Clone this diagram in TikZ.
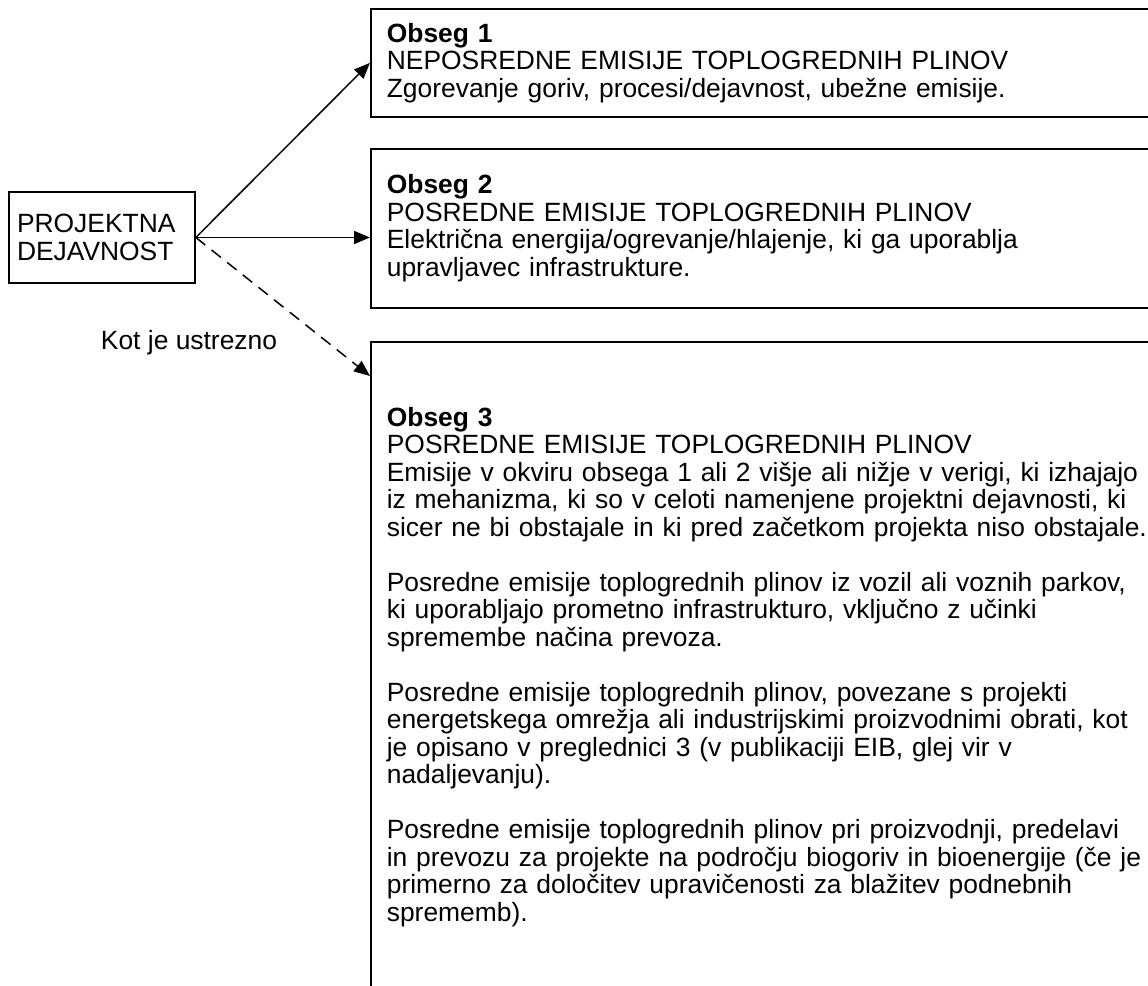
\documentclass[tikz,border=0pt]{standalone}
\usepackage{fontspec}
\setmainfont{Liberation Sans}
\usetikzlibrary{arrows.meta}
\begin{document}
\begin{tikzpicture}[x=1pt,y=-1pt,
  every node/.style={font=\fontsize{26.4}{27.5}\selectfont},
  frame/.style={draw, line width=1.7pt, inner ysep=0pt},
  scopebox/.style={frame, anchor=north west, minimum width=840pt,
                   inner xsep=16pt, text width=808pt, align=left},
  link/.style={line width=1.5pt, -{Triangle[length=16pt,width=13pt]}},
  optional/.style={link, dash pattern=on 12pt off 8pt}]
  \useasboundingbox (0,0) rectangle (1148,985);
  \clip (0,0) rectangle (1148,985);

  % source activity
  \node[frame, minimum width=186pt, minimum height=91pt, inner xsep=8pt,
        text width=170pt, align=left] (p) at (102,237.5) {PROJEKTNA\\DEJAVNOST};

  % the three scopes
  \node[scopebox, minimum height=108pt] (b1) at (370,8)
    {\textbf{Obseg 1}\\
     NEPOSREDNE EMISIJE TOPLOGREDNIH PLINOV\\
     Zgorevanje goriv, procesi/dejavnost, ubežne emisije.};

  \node[scopebox, minimum height=159pt] (b2) at (370,148)
    {\textbf{Obseg 2}\\
     POSREDNE EMISIJE TOPLOGREDNIH PLINOV\\
     Električna energija/ogrevanje/hlajenje, ki ga uporablja\\
     upravljavec infrastrukture.};

  \node[scopebox, minimum height=650pt] (b3) at (370,341)
    {\textbf{Obseg 3}\\
     POSREDNE EMISIJE TOPLOGREDNIH PLINOV\\
     Emisije v okviru obsega 1 ali 2 višje ali nižje v verigi, ki izhajajo\\
     iz mehanizma, ki so v celoti namenjene projektni dejavnosti, ki\\
     sicer ne bi obstajale in ki pred začetkom projekta niso obstajale.\\[27.5pt]
     Posredne emisije toplogrednih plinov iz vozil ali voznih parkov,\\
     ki uporabljajo prometno infrastrukturo, vključno z učinki\\
     spremembe načina prevoza.\\[27.5pt]
     Posredne emisije toplogrednih plinov, povezane s projekti\\
     energetskega omrežja ali industrijskimi proizvodnimi obrati, kot\\
     je opisano v preglednici 3 (v publikaciji EIB, glej vir v\\
     nadaljevanju).\\[27.5pt]
     Posredne emisije toplogrednih plinov pri proizvodnji, predelavi\\
     in prevozu za projekte na področju biogoriv in bioenergije (če je\\
     primerno za določitev upravičenosti za blažitev podnebnih\\
     sprememb).};

  % connectors
  \draw[link] (p.east) -- (b1.west);
  \draw[link] (p.east) -- (p.east -| b2.west);
  \draw[optional] (p.east) -- ([yshift=-35pt]b3.north west);

  \node[anchor=base] (lbl) at (189,349) {Kot je ustrezno};
\end{tikzpicture}
\end{document}
